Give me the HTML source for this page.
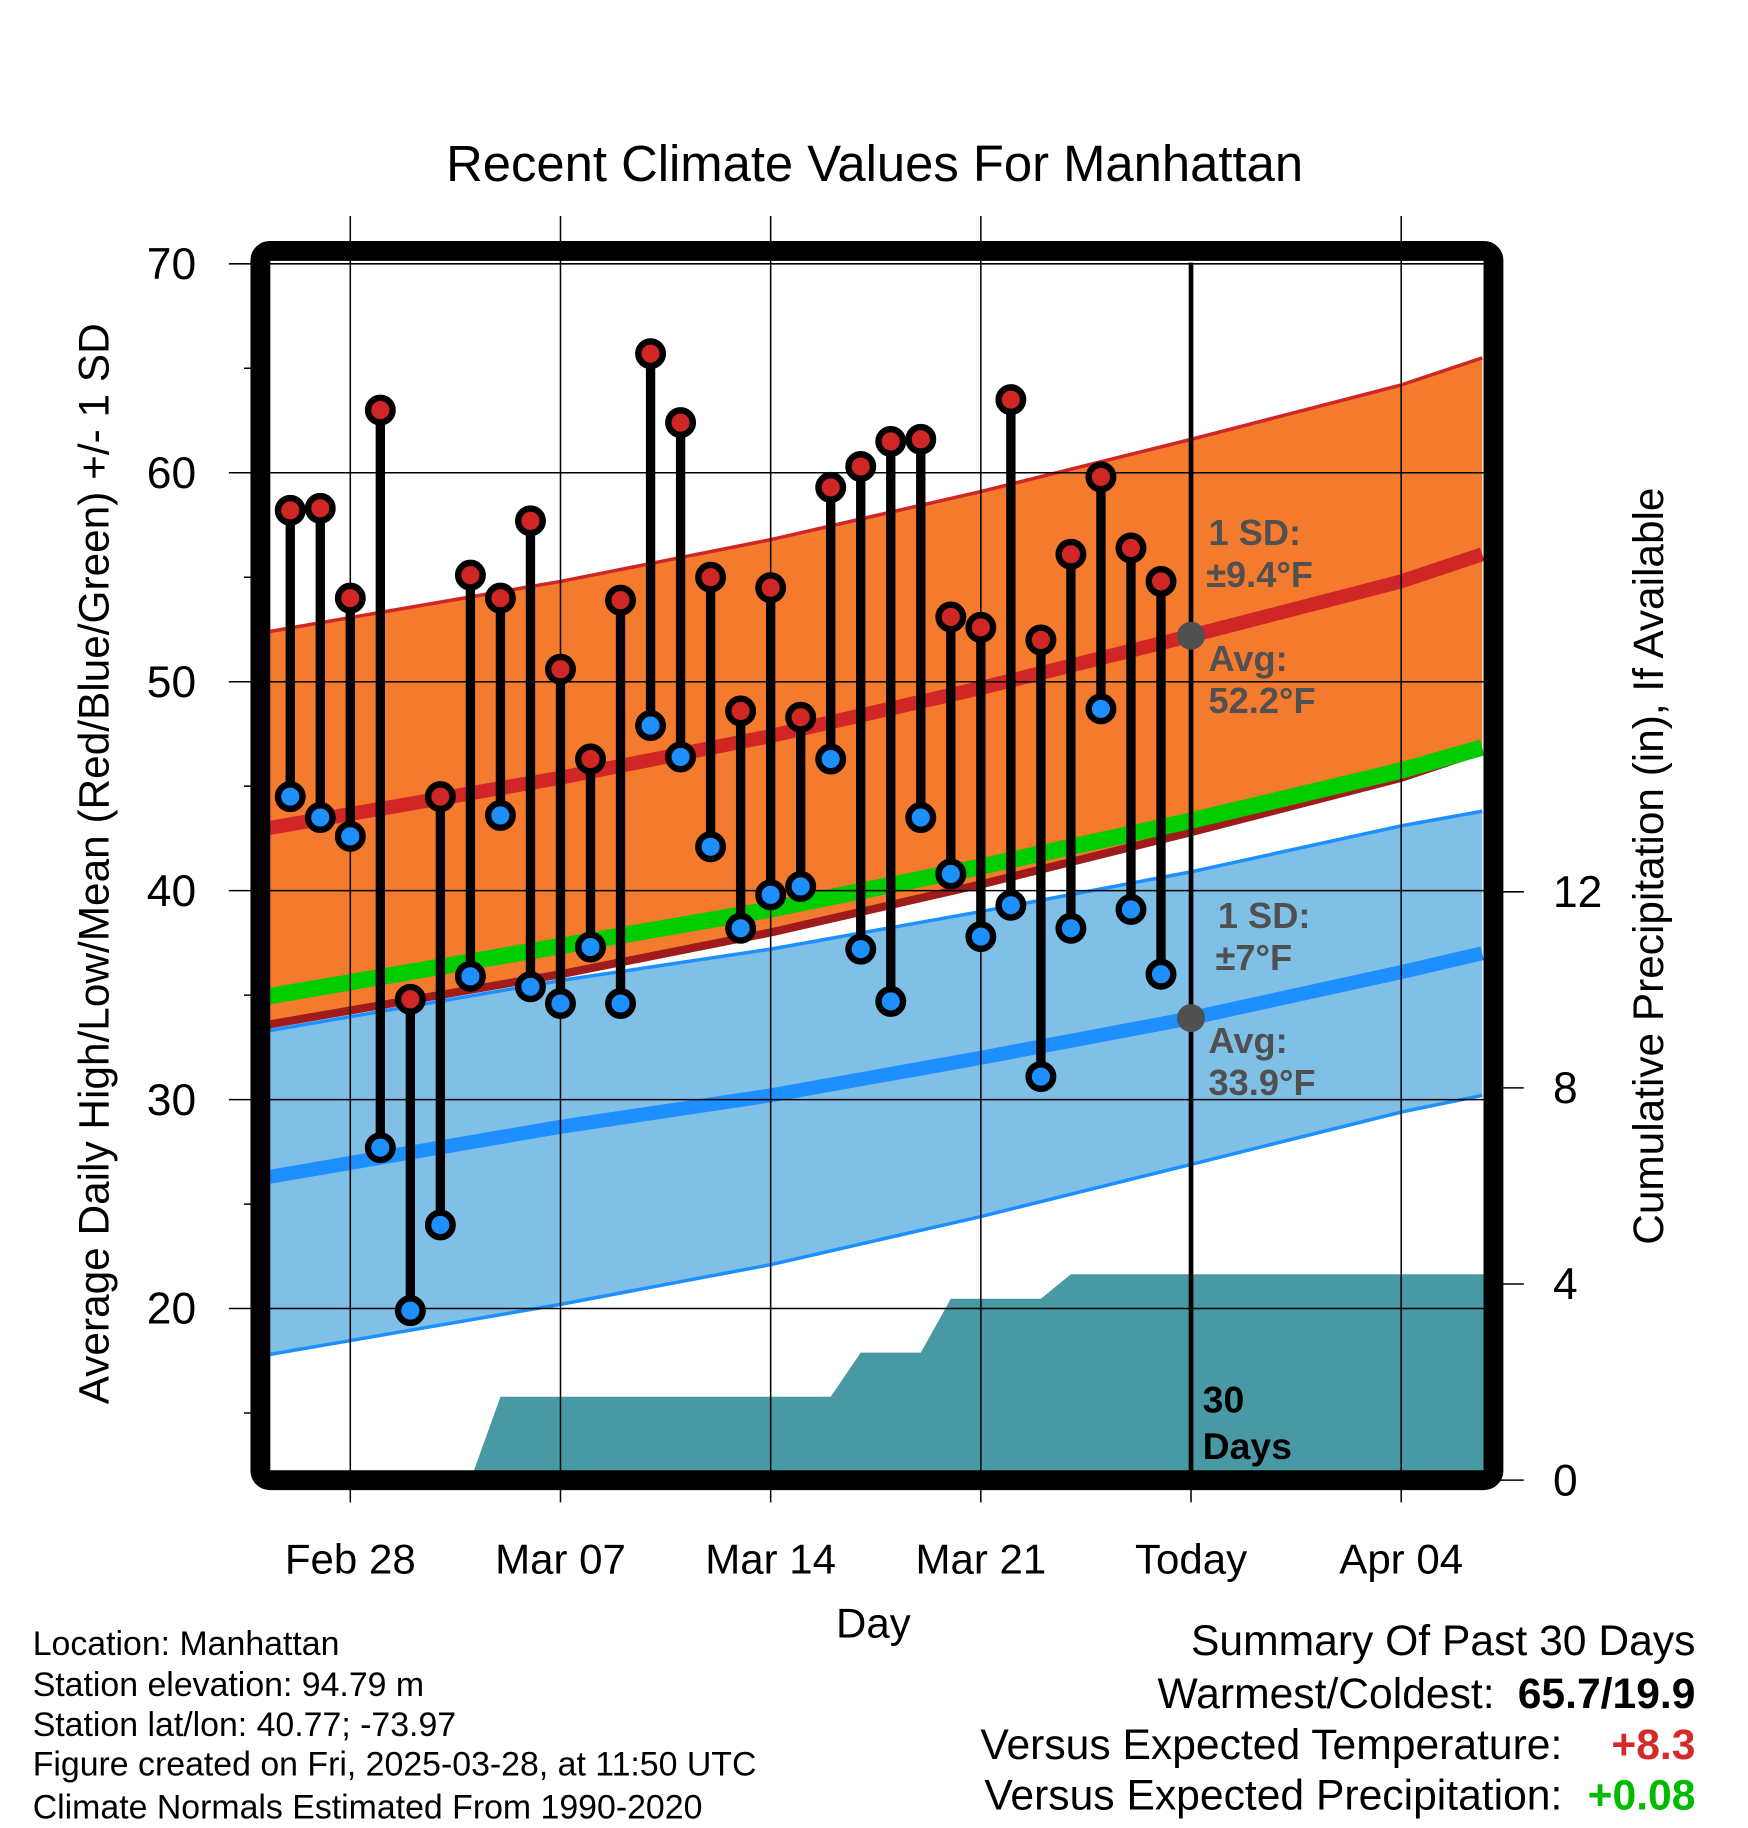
<!DOCTYPE html>
<html><head><meta charset="utf-8"><style>
html,body{margin:0;padding:0;background:#fff}
svg{display:block}
text{font-family:"Liberation Sans",Arial,sans-serif}
</style></head><body>
<svg id="chart" width="1748" height="1828" viewBox="0 0 1497 1566" preserveAspectRatio="none" xmlns="http://www.w3.org/2000/svg">
<defs><clipPath id="plotclip"><rect x="231" y="223" width="1040" height="1037"/></clipPath></defs>
<g id="bg" clip-path="url(#plotclip)"></g>
<g id="grid"></g>
<g id="marks" clip-path="url(#plotclip)"></g>
<rect x="223" y="215" width="1056" height="1053" rx="8" fill="none" stroke="#000" stroke-width="17"/>
<g id="axes"></g>
<text x="749" y="155" font-size="43.5" text-anchor="middle">Recent Climate Values For Manhattan</text>
<text x="748" y="1403" font-size="36" text-anchor="middle">Day</text>
<text transform="translate(93,740) rotate(-90)" font-size="36.3" text-anchor="middle">Average Daily High/Low/Mean (Red/Blue/Green) +/- 1 SD</text>
<text transform="translate(1424,742) rotate(-90)" font-size="36.3" text-anchor="middle">Cumulative Precipitation (in), If Available</text>
<g font-size="31" font-weight="bold" fill="#505050">
<text x="1035" y="467">1 SD:</text><text x="1033" y="503">±9.4°F</text>
<text x="1035" y="575">Avg:</text><text x="1035" y="611">52.2°F</text></g>
<g font-size="31" font-weight="bold" fill="#505050">
<text x="1043" y="795">1 SD:</text><text x="1041" y="831">±7°F</text>
<text x="1035" y="902">Avg:</text><text x="1035" y="938">33.9°F</text></g>
<g font-size="32" font-weight="bold" fill="#000">
<text x="1030" y="1210">30</text><text x="1030" y="1250">Days</text></g>
<g font-size="29" fill="#000">
<text x="28" y="1418">Location: Manhattan</text>
<text x="28" y="1453">Station elevation: 94.79 m</text>
<text x="28" y="1487">Station lat/lon: 40.77; -73.97</text>
<text x="28" y="1521">Figure created on Fri, 2025-03-28, at 11:50 UTC</text>
<text x="28" y="1558">Climate Normals Estimated From 1990-2020</text></g>
<g font-size="36.5" fill="#000">
<text x="1452" y="1418" text-anchor="end">Summary Of Past 30 Days</text>
<text x="1280" y="1463" text-anchor="end">Warmest/Coldest:</text>
<text x="1452" y="1463" text-anchor="end" font-weight="bold">65.7/19.9</text>
<text x="1338" y="1507" text-anchor="end">Versus Expected Temperature:</text>
<text x="1452" y="1507" text-anchor="end" font-weight="bold" fill="#d42a2a">+8.3</text>
<text x="1338" y="1550" text-anchor="end">Versus Expected Precipitation:</text>
<text x="1452" y="1550" text-anchor="end" font-weight="bold" fill="#00bb00">+0.08</text></g>
</svg>
<script>
const days=[-2,-1,0,1,2,3,4,5,6,7,8,9,10,11,12,13,14,15,16,17,18,19,20,21,22,23,24,25,26,27];
const highs=[58.2,58.3,54.0,63.0,34.8,44.5,55.1,54.0,57.7,50.6,46.3,53.9,65.7,62.4,55.0,48.6,54.5,48.3,59.3,60.3,61.5,61.6,53.1,52.6,63.5,52.0,56.1,59.8,56.4,54.8];
const lows=[44.5,43.5,42.6,27.7,19.9,24.0,35.9,43.6,35.4,34.6,37.3,34.6,47.9,46.4,42.1,38.2,39.8,40.2,46.3,37.2,34.7,43.5,40.8,37.8,39.3,31.1,38.2,48.7,39.1,36.0];
const precip=[0,0,0,0,0,0,0,1.7,1.7,1.7,1.7,1.7,1.7,1.7,1.7,1.7,1.7,1.7,1.7,2.6,2.6,2.6,3.7,3.7,3.7,3.7,4.2,4.2,4.2,4.2];
const normDays=[-2.7,7,14,21,28,35,37.7];
const highAvg=[43.0,45.4,47.4,49.7,52.2,54.8,56.1];
const highSD=9.4;
const lowAvg=[26.3,28.7,30.2,32.0,33.9,36.1,37.0];
const lowUpper=[33.3,35.7,37.2,39.0,40.9,43.1,43.8];
const lowLower=[17.8,20.2,22.1,24.4,26.9,29.4,30.2];
const yTicks=[20,30,40,50,60,70];
const y2Ticks=[0,4,8,12];
const xTickDays=[0,7,14,21,28,35];
const xTickLabels=["Feb 28","Mar 07","Mar 14","Mar 21","Today","Apr 04"];
const todayDay=28;

const NS="http://www.w3.org/2000/svg";
const X=d=>300+d*180/7;
const Y=v=>226+(70-v)*17.9;
const Y2=p=>1268-p*42;
function el(tag,attrs,parent){const e=document.createElementNS(NS,tag);for(const k in attrs)e.setAttribute(k,attrs[k]);parent.appendChild(e);return e;}
const bg=document.getElementById('bg'),grid=document.getElementById('grid'),marks=document.getElementById('marks'),axes=document.getElementById('axes');
const pts=(ds,vs)=>ds.map((d,i)=>X(d).toFixed(1)+','+Y(vs[i]).toFixed(1));
let p=el('polygon',{points:pts(normDays,lowUpper).concat(pts(normDays,lowLower).reverse()).join(' '),fill:'#80c0e6'},bg);

p=el('polyline',{points:pts(normDays,lowLower).join(' '),fill:'none',stroke:'#1e8fff','stroke-width':3},bg);

p=el('polyline',{points:pts(normDays,lowUpper).join(' '),fill:'none',stroke:'#1e8fff','stroke-width':3},bg);

const hU=highAvg.map(v=>v+highSD),hL=highAvg.map(v=>v-highSD);
p=el('polygon',{points:pts(normDays,hU).concat(pts(normDays,hL).reverse()).join(' '),fill:'#f47a2e'},bg);

const meanAvg=highAvg.map((v,i)=>(v+lowAvg[i])/2);
p=el('polyline',{points:pts(normDays,hL).join(' '),fill:'none',stroke:'#a01c1c','stroke-width':7},bg);

p=el('polyline',{points:pts(normDays,meanAvg.map(v=>v+0.3)).join(' '),fill:'none',stroke:'#00cc00','stroke-width':14},bg);

p=el('polyline',{points:pts(normDays,hU).join(' '),fill:'none',stroke:'#d02626','stroke-width':3},bg);

p=el('polyline',{points:pts(normDays,highAvg).join(' '),fill:'none',stroke:'#d02626','stroke-width':12},bg);

p=el('polyline',{points:pts(normDays,lowAvg).join(' '),fill:'none',stroke:'#1e8fff','stroke-width':12},bg);

let pp=days.map((d,i)=>X(d).toFixed(1)+','+Y2(precip[i]).toFixed(1));
pp.push('1275,'+Y2(precip[precip.length-1]).toFixed(1),'1275,1268',X(days[0]).toFixed(1)+',1268');
p=el('polygon',{points:pp.join(' '),fill:'#4899a3'},bg);

xTickDays.forEach((d,i)=>{
 if(d!==todayDay){const g=el('line',{x1:X(d),x2:X(d),y1:185,y2:1287,stroke:'#000','stroke-width':1.3},grid);
 }
 else{const g=el('line',{x1:X(d),x2:X(d),y1:1268,y2:1287,stroke:'#000','stroke-width':1.3},grid);
 }
 const t=el('text',{x:X(d),y:1348,'font-size':36,'text-anchor':'middle'},axes);t.textContent=xTickLabels[i];
 
});
yTicks.forEach(v=>{
 const g=el('line',{x1:196,x2:1271,y1:Y(v),y2:Y(v),stroke:'#000','stroke-width':1.3},grid);
 
 const t=el('text',{x:168,y:Y(v)+13,'font-size':38,'text-anchor':'end'},axes);t.textContent=v;
 
});
[15,25,35,45,55,65].forEach(v=>{const g=el('line',{x1:209,x2:223,y1:Y(v),y2:Y(v),stroke:'#000','stroke-width':1.3},grid);
 });
y2Ticks.forEach(v=>{
 const g=el('line',{x1:1279,x2:1305,y1:Y2(v),y2:Y2(v),stroke:'#000','stroke-width':1.3},axes);
 
 const t=el('text',{x:1330,y:Y2(v)+13,'font-size':38},axes);t.textContent=v;
 
});
p=el('line',{x1:X(todayDay),x2:X(todayDay),y1:225,y2:1268,stroke:'#000','stroke-width':4},marks);

p=el('circle',{cx:X(todayDay),cy:Y(highAvg[4]),r:12,fill:'#505050'},marks);

p=el('circle',{cx:X(todayDay),cy:Y(lowAvg[4]),r:12,fill:'#505050'},marks);

days.forEach((d,i)=>{
 const s=el('line',{x1:X(d),x2:X(d),y1:Y(highs[i]),y2:Y(lows[i]),stroke:'#000','stroke-width':8},marks);
 
 const h=el('circle',{cx:X(d),cy:Y(highs[i]),r:10.5,fill:'#d02626',stroke:'#000','stroke-width':5.5},marks);
 
 const l=el('circle',{cx:X(d),cy:Y(lows[i]),r:10.5,fill:'#1e8fff',stroke:'#000','stroke-width':5.5},marks);
 
});
</script>
</body></html>
